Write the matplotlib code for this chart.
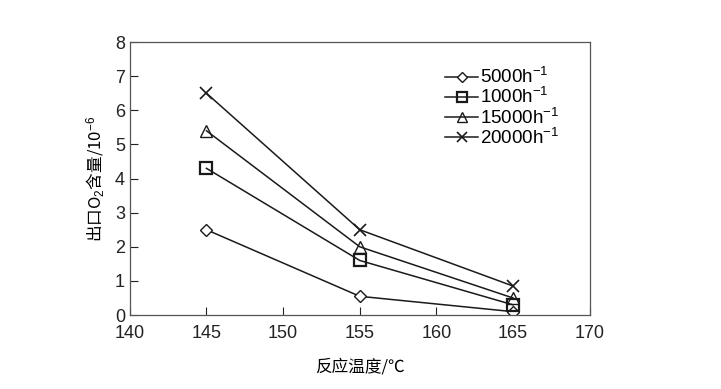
import numpy as np
import matplotlib
matplotlib.use("Agg")
import matplotlib.pyplot as plt

plt.rcParams['font.family'] = ['Liberation Sans', 'Noto Sans CJK SC', 'DejaVu Sans']
plt.rcParams['mathtext.fontset'] = 'custom'
plt.rcParams['mathtext.rm'] = 'Liberation Sans'
plt.rcParams['mathtext.it'] = 'Liberation Sans'

# data
temps = [145, 155, 165]
o2_5000 = [2.5, 0.55, 0.1]
o2_10000 = [4.3, 1.6, 0.3]
o2_15000 = [5.4, 2.0, 0.5]
o2_20000 = [6.5, 2.5, 0.85]
labels = ['5000h$^{-1}$', '1000h$^{-1}$', '15000h$^{-1}$', '20000h$^{-1}$']

fig = plt.figure(figsize=(7.21, 3.89), dpi=100)
ax = fig.add_axes([0.180, 0.190, 0.638, 0.702])

col = '#1a1a1a'
ax.plot(temps, o2_5000, color=col, lw=1.1, marker='D', ms=6.5, mfc='white', mec=col, mew=1.0, label=labels[0])
ax.plot(temps, o2_10000, color=col, lw=1.1, marker='s', ms=9, mfc='none', mec=col, mew=1.6, label=labels[1])
ax.plot(temps, o2_15000, color=col, lw=1.1, marker='^', ms=9, mfc='none', mec=col, mew=1.0, label=labels[2])
ax.plot(temps, o2_20000, color=col, lw=1.1, marker='x', ms=9, mec=col, mew=1.2, label=labels[3])

ax.set_xlim(140, 170)
ax.set_ylim(0, 8)
ax.set_xticks(np.arange(140, 171, 5))
ax.set_yticks(np.arange(0, 9, 1))
ax.tick_params(direction='in', labelsize=13, length=6, width=0.8, colors='#222')
ax.tick_params(axis='x', pad=7)
for s in ax.spines.values():
    s.set_linewidth(0.9)
    s.set_color('#555')

ax.set_xlabel('反应温度/℃', fontsize=12, labelpad=12, family=['Noto Sans CJK SC', 'DejaVu Sans'])
ax.set_ylabel('出口O$_2$含量/10$^{-6}$', fontsize=12, labelpad=6, family=['Noto Sans CJK SC', 'DejaVu Sans'])

leg = ax.legend(loc='upper left', bbox_to_anchor=(0.67, 0.935), frameon=False, fontsize=13.5,
                handlelength=1.75, handletextpad=0.1, labelspacing=0.0, borderaxespad=0,
                markerscale=0.85)

fig.savefig('out.png', dpi=100)
